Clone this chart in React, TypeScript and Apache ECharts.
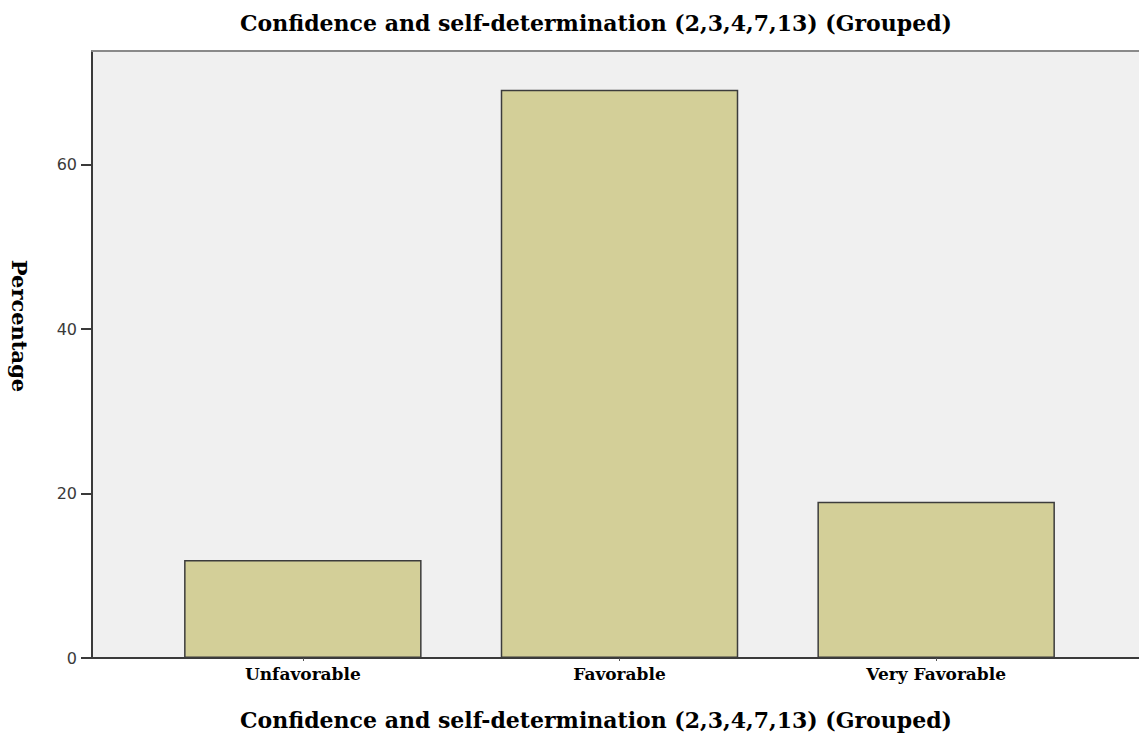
import React, { useEffect, useRef } from "react";
import * as echarts from "echarts";

const TITLE = "Confidence and self-determination (2,3,4,7,13) (Grouped)";
const X_NAME = "Confidence and self-determination (2,3,4,7,13) (Grouped)";
const Y_NAME = "Percentage";
const categories = ["Unfavorable", "Favorable", "Very Favorable"];
const percentages = [11.9, 69.1, 19.0];
const Y_MAX = 73.8;
const TICK_MAX = 60;
const TICK_STEP = 20;

const PLOT_TOP = 51;
const PLOT_BOTTOM = 80; // distance from bottom of chart
const PLOT_LEFT = 92;
const H = 738;

export default function App() {
  const ref = useRef<HTMLDivElement>(null);
  useEffect(() => {
    if (!ref.current) return;
    const chart = echarts.init(ref.current, null, { renderer: "svg" });
    const plotH = H - PLOT_TOP - PLOT_BOTTOM;
    const tickGridTop = H - PLOT_BOTTOM - (TICK_MAX / Y_MAX) * plotH;
    const serif = "'DejaVu Serif', 'Liberation Serif', serif";
    chart.setOption({
      animation: false,
      backgroundColor: "#ffffff",
      grid: [
        {
          left: PLOT_LEFT,
          right: 0,
          top: PLOT_TOP,
          bottom: PLOT_BOTTOM,
          show: true,
          backgroundColor: "#f0f0f0",
          borderWidth: 0,
        },
        { left: 144.5, width: 950, top: PLOT_TOP, bottom: PLOT_BOTTOM },
        { left: PLOT_LEFT, width: 1, top: tickGridTop, bottom: PLOT_BOTTOM },
      ],
      xAxis: [
        {
          gridIndex: 0,
          type: "value",
          position: "bottom",
          axisLine: { show: true, lineStyle: { color: "#3a3a3a", width: 2 } },
          axisTick: { show: false },
          axisLabel: { show: false },
          splitLine: { show: false },
        },
        {
          gridIndex: 0,
          type: "value",
          position: "top",
          axisLine: { show: true, lineStyle: { color: "#8a8a8a", width: 2 } },
          axisTick: { show: false },
          axisLabel: { show: false },
          splitLine: { show: false },
        },
        {
          gridIndex: 1,
          type: "category",
          data: categories,
          axisLine: { show: false },
          axisTick: {
            show: true,
            alignWithLabel: true,
            length: 3,
            lineStyle: { color: "#555", width: 1 },
          },
          axisLabel: {
            color: "#000",
            fontFamily: serif,
            fontWeight: "bold",
            fontSize: 17,
            margin: 7,
          },
          splitLine: { show: false },
        },
        {
          gridIndex: 2,
          type: "value",
          show: false,
        },
      ],
      yAxis: [
        {
          gridIndex: 0,
          type: "value",
          min: 0,
          max: Y_MAX,
          axisLine: { show: true, lineStyle: { color: "#3a3a3a", width: 2 } },
          axisTick: { show: false },
          axisLabel: { show: false },
          splitLine: { show: false },
        },
        {
          gridIndex: 1,
          type: "value",
          min: 0,
          max: Y_MAX,
          show: false,
        },
        {
          gridIndex: 2,
          type: "value",
          min: 0,
          max: TICK_MAX,
          interval: TICK_STEP,
          axisLine: { show: false },
          axisTick: {
            show: true,
            length: 11,
            lineStyle: { color: "#3a3a3a", width: 2 },
          },
          axisLabel: {
            color: "#3a3a3a",
            fontFamily: "'DejaVu Sans', Arial, sans-serif",
            fontSize: 16,
            margin: 15,
          },
          splitLine: { show: false },
        },
      ],
      series: [
        {
          type: "bar",
          xAxisIndex: 2,
          yAxisIndex: 1,
          data: percentages,
          barWidth: "75%",
          itemStyle: {
            color: "#d3cf98",
            borderColor: "#3c3c3c",
            borderWidth: 1.5,
          },
        },
      ],
      graphic: [
        {
          type: "text",
          x: 596,
          y: 23,
          style: {
            text: TITLE,
            fill: "#000",
            font: `bold 22px ${serif}`,
            textAlign: "center",
            textVerticalAlign: "middle",
          },
        },
        {
          type: "text",
          x: 596,
          y: 720,
          style: {
            text: X_NAME,
            fill: "#000",
            font: `bold 22px ${serif}`,
            textAlign: "center",
            textVerticalAlign: "middle",
          },
        },
        {
          type: "text",
          x: 19,
          y: 326,
          rotation: -Math.PI / 2,
          style: {
            text: Y_NAME,
            fill: "#000",
            font: `bold 21px ${serif}`,
            textAlign: "center",
            textVerticalAlign: "middle",
          },
        },
      ],
    });
    return () => chart.dispose();
  }, []);
  return (
    <div
      ref={ref}
      style={{ position: "fixed", left: 0, top: 0, width: 1139, height: 738 }}
    />
  );
}
